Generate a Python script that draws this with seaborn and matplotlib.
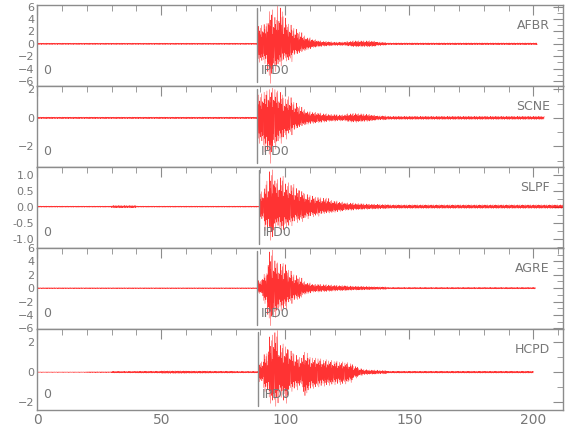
import numpy as np
import matplotlib
matplotlib.use("Agg")
import matplotlib.pyplot as plt
import matplotlib.transforms as mtransforms
from matplotlib.ticker import MultipleLocator, FormatStrFormatter
import seaborn as sns

# station traces
stations = ["AFBR", "SCNE", "SLPF", "AGRE", "HCPD"]
picks = [88.8, 88.8, 89.6, 88.8, 89.2]          # IPD0 pick times (s)
trace_end = [201.6, 204.4, 212.0, 200.8, 200.0]  # last sample (s)

# pre-event noise amplitude, one value per 10 s (0..90 s)
noise_afbr = [0.12, 0.12, 0.12, 0.12, 0.12, 0.12, 0.12, 0.12, 0.12]
noise_scne = [0.06, 0.06, 0.06, 0.06, 0.06, 0.06, 0.06, 0.06, 0.06]
noise_slpf = [0.02, 0.02, 0.02, 0.04, 0.02, 0.02, 0.02, 0.02, 0.02]
noise_agre = [0.08, 0.08, 0.08, 0.08, 0.08, 0.08, 0.08, 0.08, 0.08]
noise_hcpd = [0.02, 0.02, 0.03, 0.06, 0.07, 0.09, 0.08, 0.07, 0.06]

# upper / lower envelope after the pick, one value per 2 s
up_afbr = [3.0, 3.3, 5.5, 4.5, 6.1, 4.4, 3.2, 2.5, 1.9, 1.3, 1.0, 0.7, 0.5, 0.4,
           0.35, 0.3, 0.3, 0.3, 0.4, 0.5, 0.5, 0.5, 0.5, 0.45, 0.3, 0.25]
lo_afbr = [-3.0, -3.2, -6.4, -4.5, -3.6, -2.8, -2.9, -1.9, -1.6, -1.2, -0.9, -0.6, -0.5, -0.4,
           -0.35, -0.3, -0.3, -0.3, -0.4, -0.5, -0.5, -0.5, -0.5, -0.45, -0.3, -0.25]
up_scne = [1.7, 1.9, 2.1, 2.1, 1.9, 1.4, 1.5, 1.1, 0.8, 0.6, 0.45, 0.4, 0.35, 0.3,
           0.25, 0.25, 0.22, 0.22, 0.3, 0.32, 0.3, 0.28, 0.25, 0.2, 0.15, 0.15]
lo_scne = [-1.8, -2.4, -3.2, -2.2, -1.8, -1.5, -1.2, -0.9, -0.7, -0.55, -0.45, -0.4, -0.35, -0.3,
           -0.25, -0.25, -0.22, -0.22, -0.3, -0.32, -0.3, -0.28, -0.25, -0.2, -0.15, -0.15]
up_slpf = [0.47, 0.8, 1.15, 0.85, 0.95, 0.75, 0.7, 0.6, 0.5, 0.4, 0.35, 0.3, 0.28, 0.27,
           0.2, 0.18, 0.15, 0.12, 0.12, 0.1, 0.1, 0.09, 0.08, 0.08, 0.07, 0.07]
lo_slpf = [-0.42, -0.75, -1.05, -0.65, -0.8, -0.65, -0.6, -0.5, -0.47, -0.38, -0.32, -0.3, -0.25, -0.22,
           -0.2, -0.18, -0.15, -0.12, -0.12, -0.1, -0.1, -0.09, -0.08, -0.08, -0.07, -0.07]
up_agre = [1.2, 2.2, 5.7, 4.3, 3.8, 3.7, 2.7, 2.0, 1.6, 1.0, 0.8, 0.6, 0.6, 0.55,
           0.5, 0.45, 0.4, 0.4, 0.35, 0.3, 0.3, 0.28, 0.25, 0.22, 0.2, 0.2]
lo_agre = [-0.8, -2.3, -5.6, -4.4, -3.4, -3.3, -2.3, -1.9, -1.7, -1.0, -0.8, -0.6, -0.6, -0.55,
           -0.5, -0.45, -0.4, -0.4, -0.35, -0.3, -0.3, -0.28, -0.25, -0.22, -0.2, -0.2]
up_hcpd = [0.7, 1.25, 2.5, 2.8, 1.9, 1.8, 1.5, 1.2, 1.0, 1.35, 1.0, 0.95, 0.9, 0.85,
           0.8, 0.75, 0.7, 0.65, 0.6, 0.4, 0.25, 0.18, 0.15, 0.15, 0.12, 0.12]
lo_hcpd = [-0.65, -1.3, -2.1, -2.3, -1.7, -2.1, -1.3, -1.2, -1.0, -1.75, -1.2, -1.1, -1.0, -0.95,
           -0.9, -0.85, -0.85, -0.8, -0.7, -0.4, -0.25, -0.18, -0.15, -0.15, -0.12, -0.12]

# coda level after the envelope list runs out
tail = [0.16, 0.12, 0.06, 0.12, 0.07]

noises = [noise_afbr, noise_scne, noise_slpf, noise_agre, noise_hcpd]
ups = [up_afbr, up_scne, up_slpf, up_agre, up_hcpd]
los = [lo_afbr, lo_scne, lo_slpf, lo_agre, lo_hcpd]

ylims = [(-6.8, 6.3), (-3.45, 2.25), (-1.29, 1.24), (-6.1, 6.0), (-2.55, 2.9)]
ymajor = [2, 2, 0.5, 2, 2]
yminor = [1, 1, 0.25, 1, 1]

# oscillation shape used to draw between the envelopes
carrier = [0.15, 0.55, -0.35, -0.8, 0.25, 0.95, -0.2, -0.6, 0.4, 0.7,
           -1.0, -0.3, 0.5, 0.2, -0.45, -0.75, 0.85, 0.3, -0.55, -0.15,
           0.65, 1.0, -0.4, -0.9, 0.35, 0.1, -0.7, -0.25, 0.6, -0.5, 0.45]

dt = 0.07
gray = "#8c8c8c"
txt = "#777777"

sns.set_style("white")
plt.rcParams["font.family"] = ["DejaVu Sans"]

fig, axes = plt.subplots(5, 1, figsize=(5.8, 4.4), dpi=100, sharex=True)
fig.subplots_adjust(left=0.064, right=0.971, top=0.989, bottom=0.068, hspace=0)

car = np.array(carrier)
for i, ax in enumerate(axes):
    t = np.arange(0, trace_end[i], dt)
    c = car[np.arange(len(t)) % len(car)]
    amp_up = np.empty(len(t))
    amp_lo = np.empty(len(t))
    for k, tk in enumerate(t):
        if tk < picks[i]:
            n = noises[i][min(int(tk // 10), len(noises[i]) - 1)]
            amp_up[k], amp_lo[k] = n, -n
        else:
            j = int((tk - picks[i]) // 2)
            if j < len(ups[i]):
                amp_up[k], amp_lo[k] = ups[i][j], los[i][j]
            else:
                amp_up[k], amp_lo[k] = tail[i], -tail[i]
    y = np.where(c > 0, amp_up * c, -amp_lo * c)

    sns.lineplot(x=t, y=y, ax=ax, color="red", lw=0.35, alpha=0.8,
                 estimator=None, sort=False)

    ax.set_xlim(0, 212)
    ax.set_ylim(*ylims[i])
    ax.xaxis.set_major_locator(MultipleLocator(50))
    ax.xaxis.set_minor_locator(MultipleLocator(10))
    ax.yaxis.set_major_locator(MultipleLocator(ymajor[i]))
    ax.yaxis.set_minor_locator(MultipleLocator(yminor[i]))
    if i == 2:
        ax.yaxis.set_major_formatter(FormatStrFormatter("%.1f"))
    ax.tick_params(which="both", direction="in", top=True, right=True,
                   color=gray, labelcolor=txt, labelsize=8, pad=2)
    ax.tick_params(which="major", length=7)
    ax.tick_params(which="minor", length=4)
    for s in ax.spines.values():
        s.set_color(gray)
        s.set_linewidth(1)
    ax.set_xlabel("")
    ax.set_ylabel("")

    # pick line and labels
    trans = mtransforms.blended_transform_factory(ax.transData, ax.transAxes)
    ax.plot([picks[i], picks[i]], [0.05, 0.96], transform=trans, color=gray, lw=1)
    ax.text(picks[i] + 1.2, 0.19, "IPD0", transform=trans, color=txt,
            fontsize=9, ha="left", va="center")
    ax.text(0.012, 0.19, "0", transform=ax.transAxes, color=txt,
            fontsize=9, ha="left", va="center")
    ax.text(0.975, 0.75, stations[i], transform=ax.transAxes, color=txt,
            fontsize=9, ha="right", va="center")

axes[-1].set_xticks([0, 50, 100, 150, 200])
axes[-1].tick_params(axis="x", labelsize=10)

plt.savefig("out.png", dpi=100)
